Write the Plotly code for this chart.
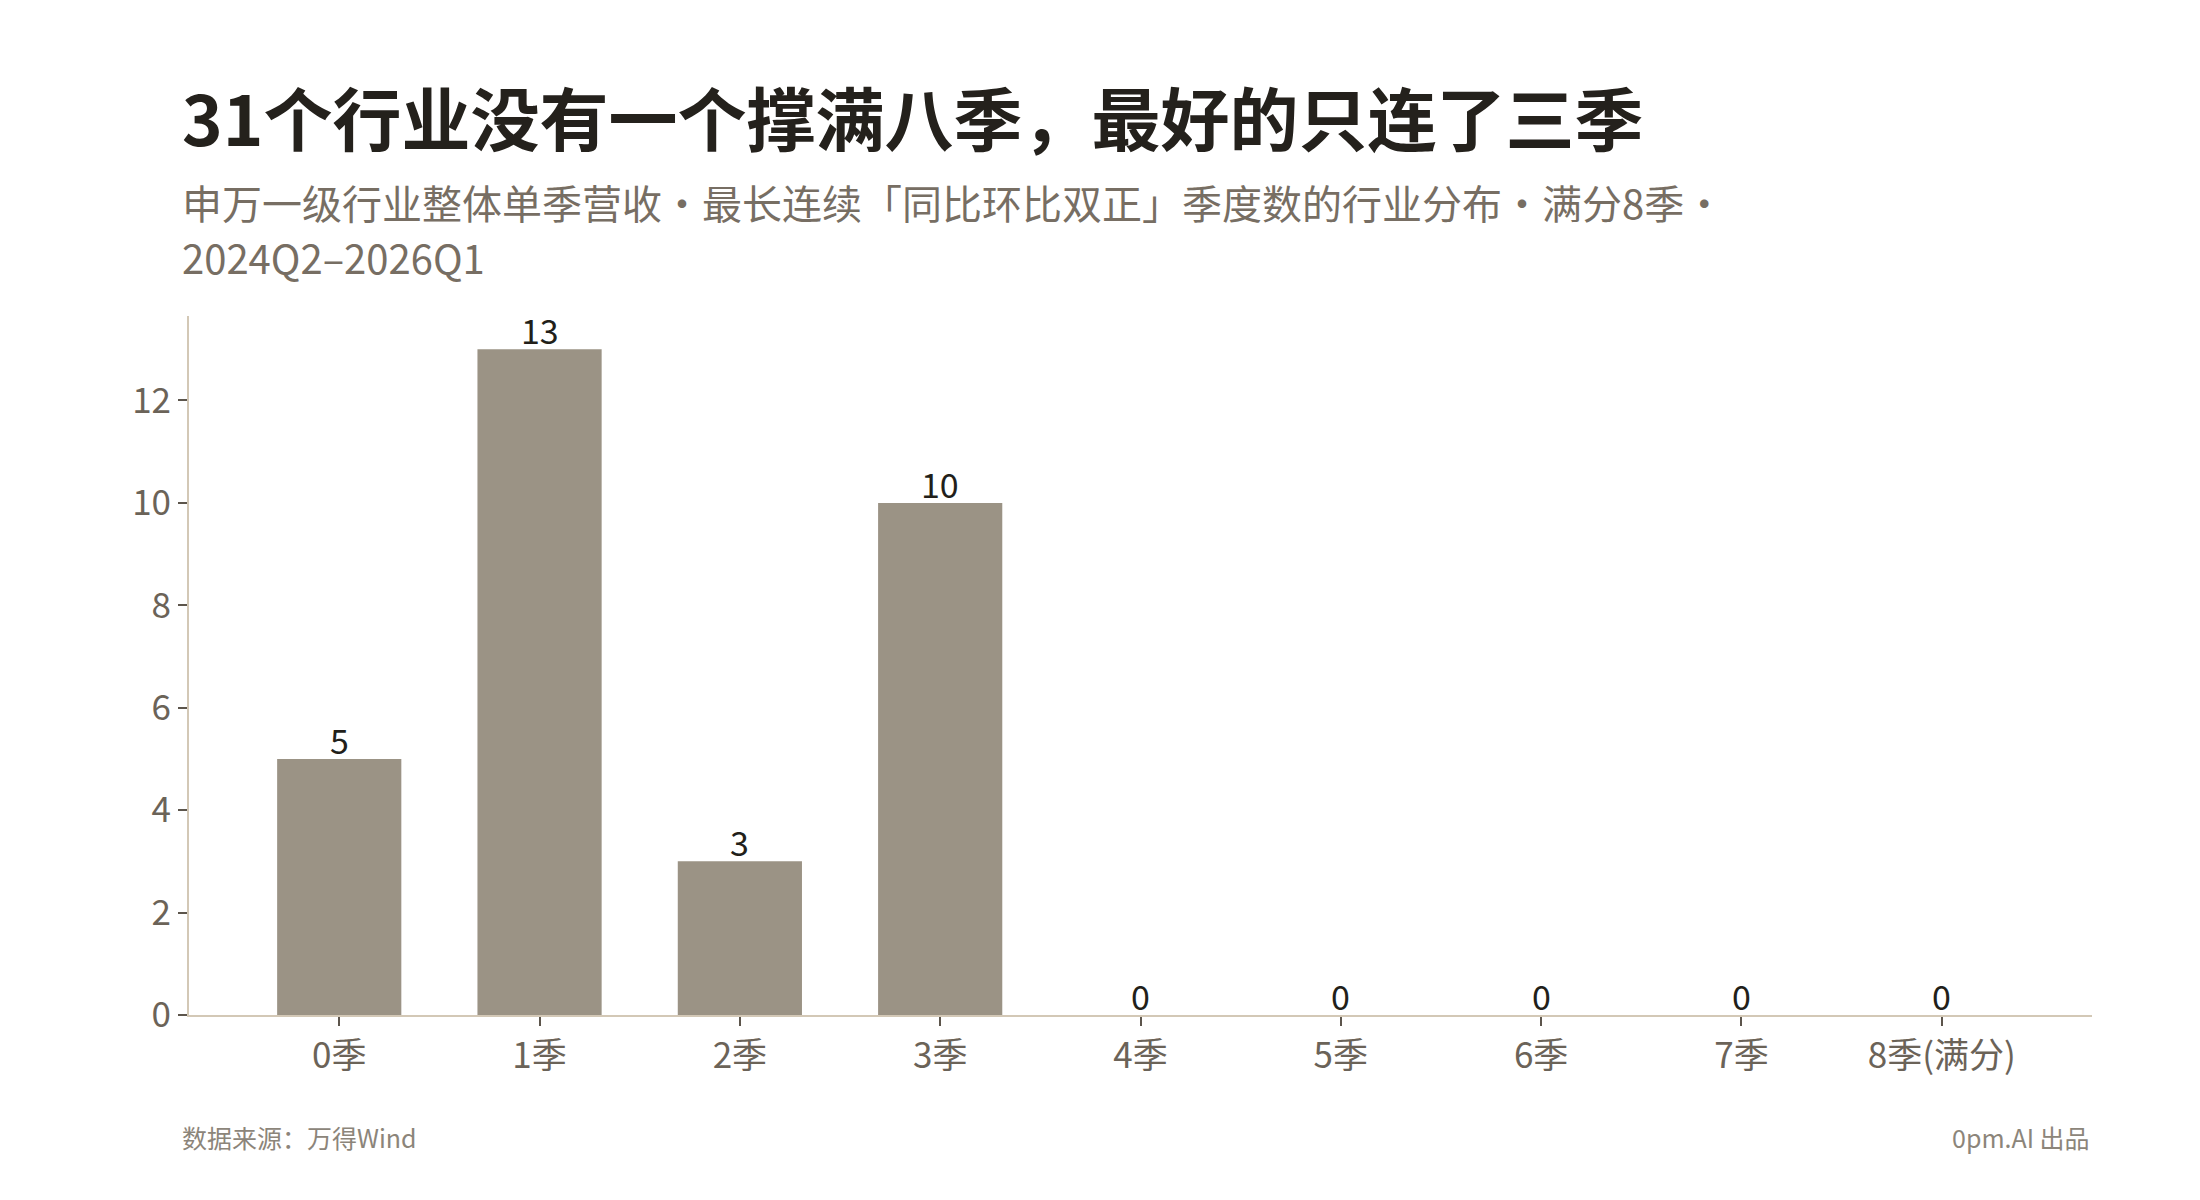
import plotly.graph_objects as go

categories = ["0季", "1季", "2季", "3季", "4季", "5季", "6季", "7季", "8季(满分)"]
counts = [5, 13, 3, 10, 0, 0, 0, 0, 0]
y_ticks = [0, 2, 4, 6, 8, 10, 12]

title = "31个行业没有一个撑满八季，最好的只连了三季"
subtitle1 = "申万一级行业整体单季营收・最长连续「同比环比双正」季度数的行业分布・满分8季・"
subtitle2 = "2024Q2–2026Q1"
source = "数据来源：万得Wind"
credit = "0pm.AI 出品"

OFF = 8  # default page margin of the html body
W, H = 2200 - OFF, 1200 - OFF
# target page positions of the plot area
PL, PR, PT, PB = 189, 2092, 316, 1015
L, T = PL - OFF, PT - OFF
R, B = W - (PR - OFF), H - (PB - OFF)
FONT = "Noto Sans CJK SC"


def px(x):
    return (x - PL) / (PR - PL)


def py(y):
    return (PB - y) / (PB - PT)


fig = go.Figure(
    go.Bar(
        x=categories,
        y=counts,
        marker=dict(color="#9b9385", line=dict(width=0)),
        hoverinfo="skip",
    )
)

fig.update_layout(
    width=W,
    height=H,
    margin=dict(l=L, r=R, t=T, b=B, pad=0),
    paper_bgcolor="white",
    plot_bgcolor="white",
    bargap=0.38,
    showlegend=False,
    font=dict(family=FONT, color="#6b6358"),
)

axis_style = dict(
    showline=True,
    linecolor="#d3c8b6",
    linewidth=2,
    ticks="outside",
    ticklen=9,
    tickwidth=2,
    tickcolor="#5c554c",
    tickfont=dict(family=FONT, size=35, color="#6b6358"),
    showgrid=False,
    zeroline=False,
)
fig.update_xaxes(range=[-0.75, 8.75], **axis_style)
fig.update_yaxes(range=[0, 13.65], tickvals=y_ticks, **axis_style)

annotations = [
    dict(text="<b>" + title + "</b>", x=px(180), y=py(116), xanchor="left", yanchor="middle",
         font=dict(family=FONT, size=69, color="#24211c")),
    dict(text=subtitle1, x=px(180), y=py(202), xanchor="left", yanchor="middle",
         font=dict(family=FONT, size=40, color="#776e63")),
    dict(text=subtitle2, x=px(180), y=py(257), xanchor="left", yanchor="middle",
         font=dict(family=FONT, size=40, color="#776e63")),
    dict(text=source, x=px(180), y=py(1137), xanchor="left", yanchor="middle",
         font=dict(family=FONT, size=25, color="#8c857a")),
    dict(text=credit, x=px(2092), y=py(1137), xanchor="right", yanchor="middle",
         font=dict(family=FONT, size=25, color="#8c857a")),
]
for a in annotations:
    a.update(xref="paper", yref="paper", showarrow=False)

# value labels sitting on top of each bar
for cat, val in zip(categories, counts):
    annotations.append(dict(
        x=cat, y=val, xref="x", yref="y", text=str(val), showarrow=False,
        xanchor="center", yanchor="bottom", yshift=-6, borderpad=0,
        font=dict(family=FONT, size=34, color="#221f1a"),
    ))
fig.update_layout(annotations=annotations)

fig.write_html("out.html")
